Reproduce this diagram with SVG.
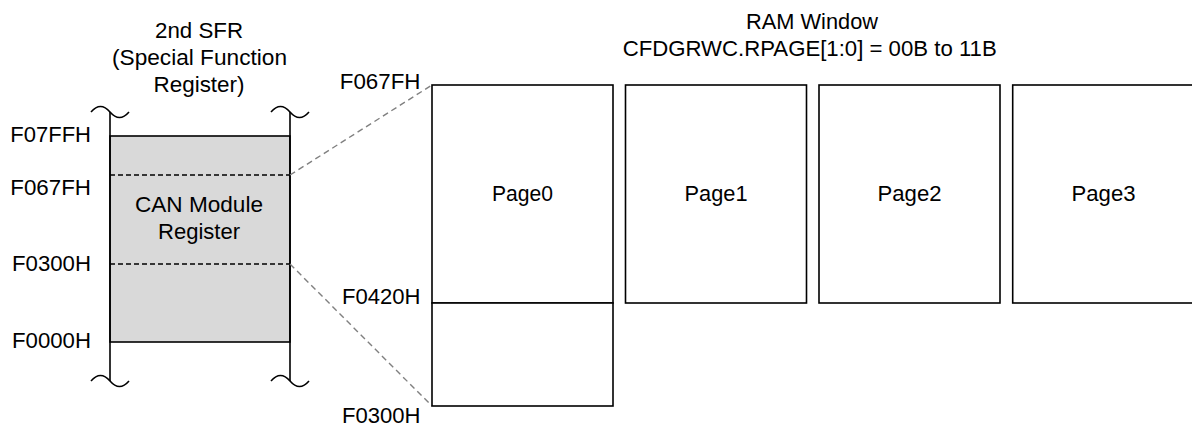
<svg xmlns="http://www.w3.org/2000/svg" width="1192" height="430" viewBox="0 0 1192 430">
<style>
text{font-family:"Liberation Sans",Arial,sans-serif;font-size:22px;fill:#000}
.c{text-anchor:middle}
.e{text-anchor:end}
.box{fill:#fff;stroke:#000;stroke-width:1.6}
.ln{fill:none;stroke:#000;stroke-width:1.6}
.dash{fill:none;stroke:#000;stroke-width:1.4;stroke-dasharray:5 3}
.conn{fill:none;stroke:#808080;stroke-width:1.4;stroke-dasharray:6 4}
</style>
<rect width="1192" height="430" fill="#fff"/>

<g id="sfr-title">
<text class="c" x="199" y="38" textLength="88" lengthAdjust="spacingAndGlyphs">2nd SFR</text>
<text class="c" x="199.5" y="65" textLength="175" lengthAdjust="spacingAndGlyphs">(Special Function</text>
<text class="c" x="199" y="91.5" textLength="91" lengthAdjust="spacingAndGlyphs">Register)</text>
</g>

<g id="ram-title">
<text class="c" x="812" y="29" textLength="132" lengthAdjust="spacingAndGlyphs">RAM Window</text>
<text class="c" x="809.7" y="56" textLength="374" lengthAdjust="spacingAndGlyphs">CFDGRWC.RPAGE[1:0] = 00B to 11B</text>
</g>

<g id="sfr-map">
<rect x="110" y="136" width="180" height="206" fill="#d9d9d9" stroke="#000" stroke-width="1.6"/>
<line class="ln" x1="110" y1="112" x2="110" y2="381"/>
<line class="ln" x1="290" y1="112" x2="290" y2="381"/>
<path class="ln" d="M91,112 Q100.5,101 110,112 T129,112"/>
<path class="ln" d="M271,112 Q280.5,101 290,112 T309,112"/>
<path class="ln" d="M91,381 Q100.5,370 110,381 T129,381"/>
<path class="ln" d="M271,381 Q280.5,370 290,381 T309,381"/>
<line class="dash" x1="110" y1="175" x2="290" y2="175"/>
<line class="dash" x1="110" y1="264" x2="290" y2="264"/>
<text class="c" x="199" y="212" textLength="128" lengthAdjust="spacingAndGlyphs">CAN Module</text>
<text class="c" x="199" y="239" textLength="82" lengthAdjust="spacingAndGlyphs">Register</text>
<text class="e" x="91" y="142" textLength="80.7" lengthAdjust="spacingAndGlyphs">F07FFH</text>
<text class="e" x="91" y="195" textLength="80.7" lengthAdjust="spacingAndGlyphs">F067FH</text>
<text class="e" x="91" y="271" textLength="79" lengthAdjust="spacingAndGlyphs">F0300H</text>
<text class="e" x="91" y="348" textLength="79" lengthAdjust="spacingAndGlyphs">F0000H</text>
</g>

<g id="connectors">
<line class="conn" x1="290" y1="175" x2="432" y2="85"/>
<line class="conn" x1="290" y1="264" x2="432" y2="406"/>
</g>

<g id="page0">
<rect class="box" x="432" y="85" width="181" height="218"/>
<rect class="box" x="432" y="303" width="181" height="103"/>
<text class="c" x="522.5" y="201" textLength="61" lengthAdjust="spacingAndGlyphs">Page0</text>
<text class="e" x="420.5" y="89" textLength="80.7" lengthAdjust="spacingAndGlyphs">F067FH</text>
<text class="e" x="420.5" y="303.5" textLength="78.5" lengthAdjust="spacingAndGlyphs">F0420H</text>
<text class="e" x="420.5" y="423" textLength="78.5" lengthAdjust="spacingAndGlyphs">F0300H</text>
</g>

<g id="page1">
<rect class="box" x="625.5" y="85" width="181" height="218"/>
<text class="c" x="716" y="201" textLength="63" lengthAdjust="spacingAndGlyphs">Page1</text>
</g>

<g id="page2">
<rect class="box" x="819" y="85" width="181" height="218"/>
<text class="c" x="909.5" y="201" textLength="64" lengthAdjust="spacingAndGlyphs">Page2</text>
</g>

<g id="page3">
<rect class="box" x="1012.7" y="85" width="181" height="218"/>
<text class="c" x="1103.5" y="201" textLength="64" lengthAdjust="spacingAndGlyphs">Page3</text>
</g>
</svg>
